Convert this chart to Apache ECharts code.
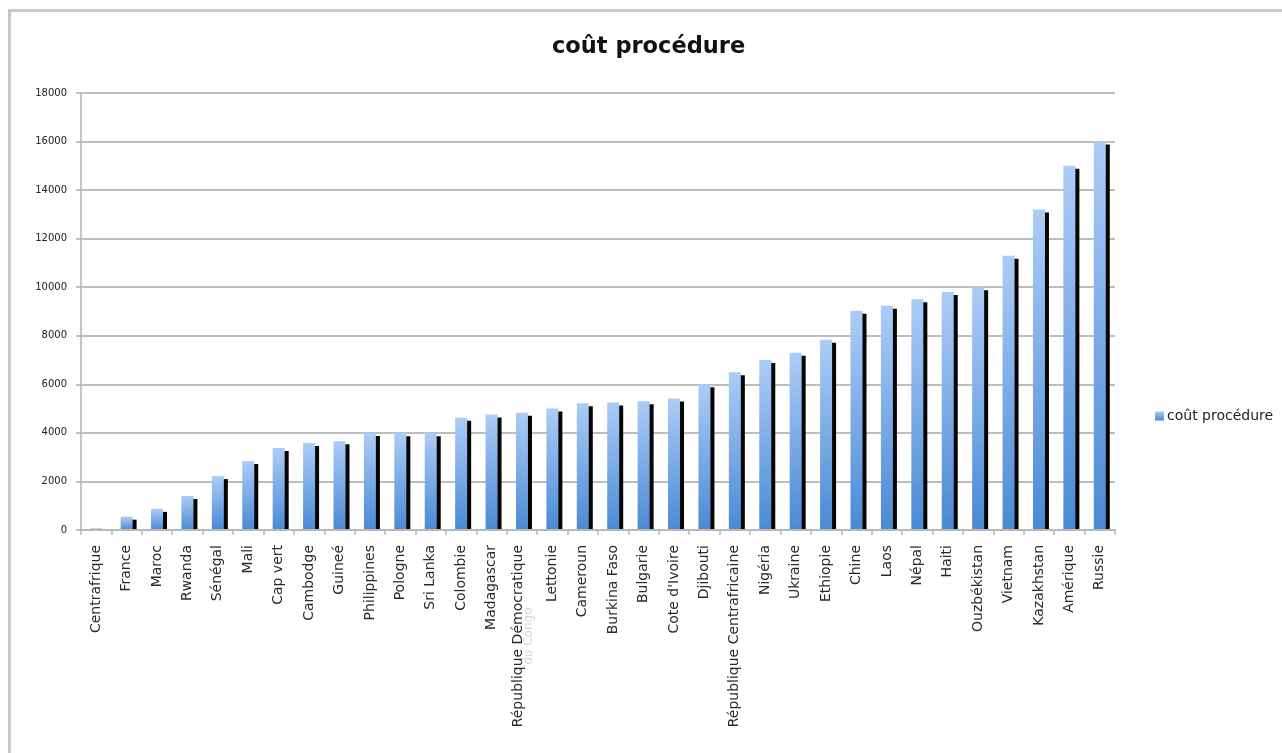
<!DOCTYPE html>
<html>
<head>
<meta charset="utf-8">
<title>coût procédure</title>
<script src="https://cdn.jsdelivr.net/npm/echarts@6/dist/echarts.min.js"></script>
<style>
  html, body { margin: 0; padding: 0; background: #ffffff; }
  #chart { width: 1282px; height: 753px; }
</style>
</head>
<body>
<div id="chart"></div>
<script>
// Countries, sorted by procedure cost
const countries = [
  'Centrafrique', 'France', 'Maroc', 'Rwanda', 'Sénégal', 'Mali', 'Cap vert',
  'Cambodge', 'Guineé', 'Philippines', 'Pologne', 'Sri Lanka', 'Colombie',
  'Madagascar', 'République Démocratique du Congo', 'Lettonie', 'Cameroun',
  'Burkina Faso', 'Bulgarie', "Cote d'Ivoire", 'Djibouti',
  'République Centrafricaine', 'Nigéria', 'Ukraine', 'Ethiopie', 'Chine',
  'Laos', 'Népal', 'Haiti', 'Ouzbékistan', 'Vietnam', 'Kazakhstan',
  'Amérique', 'Russie'
];

// Procedure cost per country
const costs = [
  70, 550, 870, 1400, 2220, 2840, 3380,
  3580, 3660, 4000, 3980, 3980, 4620,
  4760, 4830, 5000, 5220,
  5250, 5300, 5420, 6000,
  6500, 7000, 7300, 7840, 9030,
  9240, 9500, 9800, 10000, 11300, 13200,
  15000, 16000
];

const seriesName = 'coût procédure';
const yTicks = { min: 0, max: 18000, step: 2000 };

const FONT = '"DejaVu Sans", "Open Sans", sans-serif';

const chart = echarts.init(document.getElementById('chart'), null, { renderer: 'canvas' });

const longLabel = 'République Démocratique du Congo';

// plot rectangle (pixels)
const plot = { left: 81, right: 167, top: 93, bottom: 223 };
const axisY = 753 - plot.bottom;

chart.setOption({
  animation: false,
  backgroundColor: '#ffffff',
  textStyle: { fontFamily: FONT },
  graphic: [
    {
      // outer frame
      type: 'rect',
      shape: { x: 9.5, y: 10.5, width: 1300, height: 800 },
      style: { fill: 'none', stroke: '#c8c8c8', lineWidth: 3 },
      silent: true,
      z: -10
    },
    {
      // keeps the bar drop shadows from spilling under the category axis
      type: 'rect',
      shape: { x: plot.left - 2, y: axisY + 1, width: 1282 - plot.left - plot.right + 8, height: 8 },
      style: { fill: '#ffffff' },
      silent: true,
      z: 50
    }
  ],
  title: {
    text: 'coût procédure',
    left: 552,
    top: 36,
    padding: 0,
    textStyle: {
      fontFamily: FONT,
      fontWeight: 'bold',
      fontSize: 22.5,
      color: '#111111'
    }
  },
  legend: {
    orient: 'vertical',
    left: 1155,
    top: 409,
    padding: 0,
    itemWidth: 9,
    itemHeight: 9,
    itemGap: 4,
    icon: 'rect',
    itemStyle: { shadowColor: 'transparent', shadowOffsetX: 0, shadowOffsetY: 0 },
    textStyle: { fontFamily: FONT, fontSize: 14, color: '#222222', padding: [0, 0, 0, -2] },
    data: [seriesName]
  },
  grid: { left: plot.left, right: plot.right, top: plot.top, bottom: plot.bottom, containLabel: false },
  xAxis: {
    type: 'category',
    data: countries,
    boundaryGap: true,
    z: 60,
    axisLine: { lineStyle: { color: '#b8b8b8', width: 2 } },
    axisTick: { show: true, alignWithLabel: false, length: 5, lineStyle: { color: '#b8b8b8', width: 1.5 } },
    axisLabel: {
      interval: 0,
      rotate: 90,
      margin: 15,
      fontFamily: FONT,
      fontSize: 14,
      color: '#2a2a2a',
      formatter: function (v) {
        if (v === longLabel) {
          return '{a|République Démocratique}\n{b|du Congo}';
        }
        return v;
      },
      rich: {
        a: { fontFamily: FONT, fontSize: 14, color: '#2a2a2a' },
        b: { fontFamily: FONT, fontSize: 12, color: '#d4d4d4', align: 'center', height: 8 }
      }
    }
  },
  yAxis: {
    type: 'value',
    min: yTicks.min,
    max: yTicks.max,
    interval: yTicks.step,
    axisLine: { show: true, lineStyle: { color: '#c4c4c4', width: 2 } },
    axisTick: { show: true, length: 5, lineStyle: { color: '#a8a8a8', width: 1.5 } },
    axisLabel: {
      fontFamily: FONT,
      fontSize: 10,
      color: '#222222',
      margin: 14,
      formatter: function (v) { return String(v); }
    },
    splitLine: { show: true, lineStyle: { color: '#a8a8a8', width: 1.5 } }
  },
  series: [{
    name: seriesName,
    type: 'bar',
    data: costs,
    barWidth: 12,
    itemStyle: {
      color: new echarts.graphic.LinearGradient(0, 0, 0, 1, [
        { offset: 0, color: '#acccf7' },
        { offset: 1, color: '#4a8ad4' }
      ]),
      shadowColor: '#050505',
      shadowBlur: 0,
      shadowOffsetX: 4,
      shadowOffsetY: 3
    }
  }]
});
</script>
</body>
</html>
